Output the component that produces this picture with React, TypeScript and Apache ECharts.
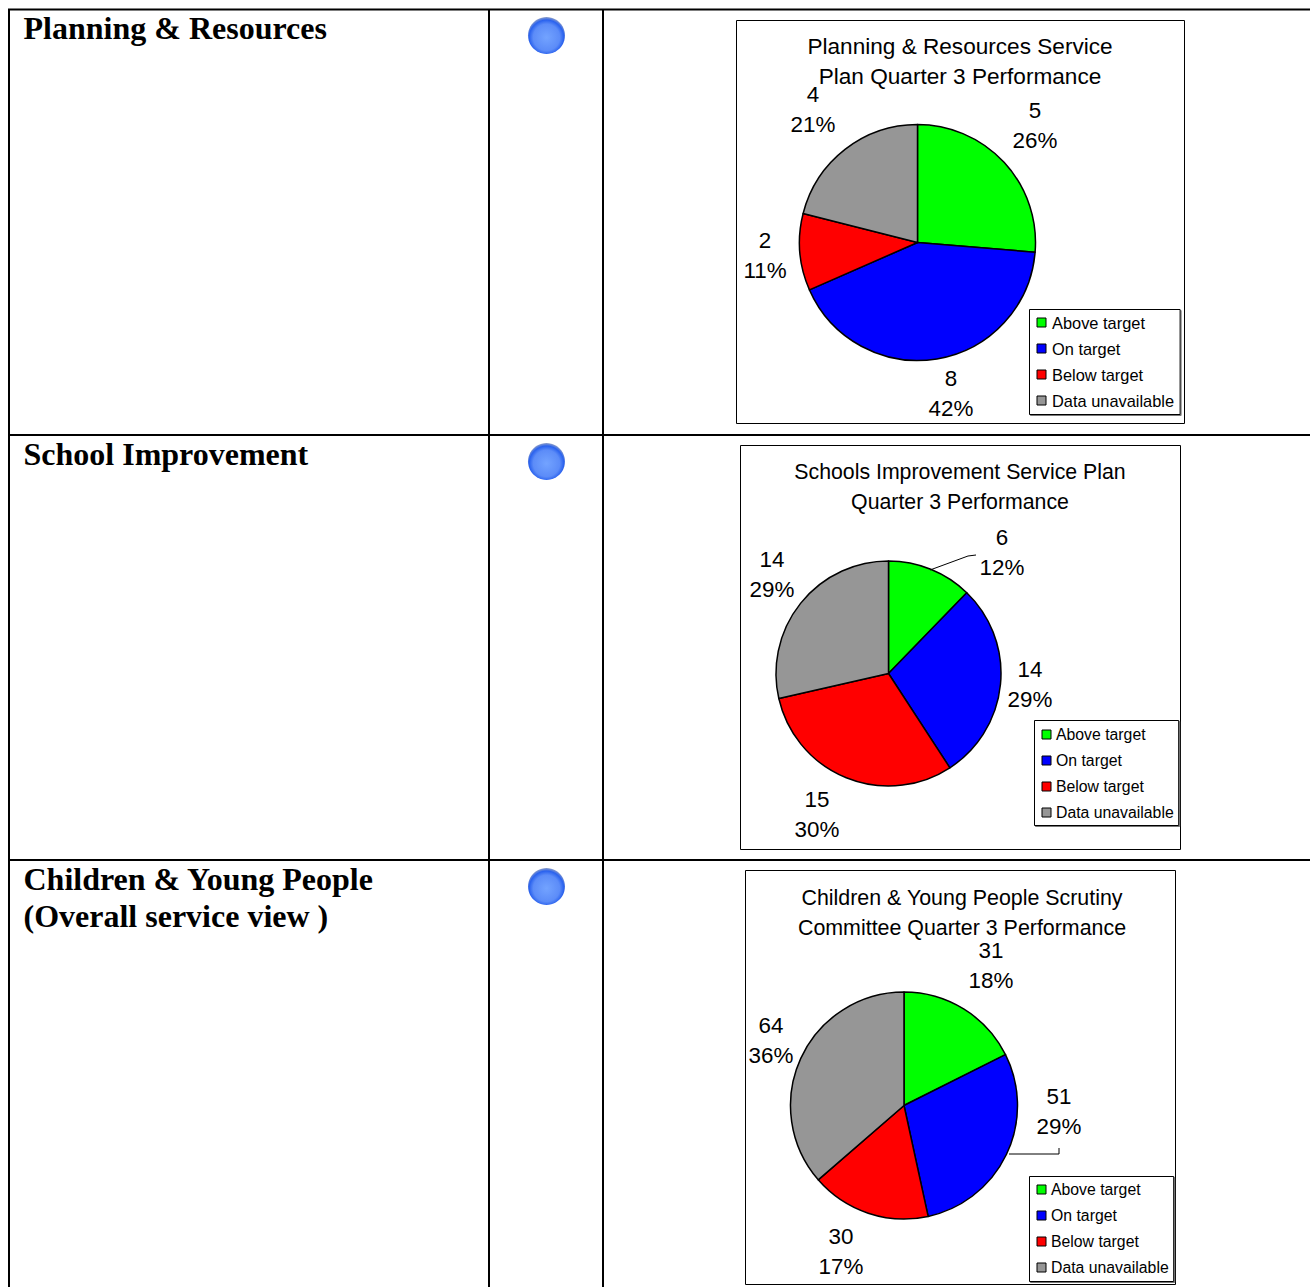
import React, { useEffect, useRef } from "react";
import * as echarts from "echarts";

const categories = ["Above target", "On target", "Below target", "Data unavailable"];
const sliceColors = ["#00ff00", "#0000ff", "#ff0000", "#969696"];

const planningValues = [5, 8, 2, 4];
const planningPercents = ["26%", "42%", "11%", "21%"];
const schoolValues = [6, 14, 15, 14];
const schoolPercents = ["12%", "29%", "30%", "29%"];
const childrenValues = [31, 51, 30, 64];
const childrenPercents = ["18%", "29%", "17%", "36%"];

const rowHeadings = [
  { text: "Planning & Resources", x: 23.5, y: 9 },
  { text: "School Improvement", x: 23.5, y: 435 },
  { text: "Children & Young People\n(Overall service view )", x: 23.5, y: 860 },
];

const panels = [
  {
    title: "Planning & Resources Service\nPlan Quarter 3 Performance",
    titleFont: 22.6,
    values: planningValues,
    percents: planningPercents,
    center: [917.5, 242.5],
    radius: 118,
    frame: [736.5, 20.5, 448, 403],
    titleX: 960,
    titleY: 31,
    legendAt: [1029.5, 309.5],
    legendTopPad: 4,
    legendFont: 16.4,
    legendTextPad: 1,
    legendRightPad: 6,
    labelAt: [[1035, 125], [951, 393], [765, 255], [813, 109]],
  },
  {
    title: "Schools Improvement Service Plan\nQuarter 3 Performance",
    titleFont: 21.3,
    values: schoolValues,
    percents: schoolPercents,
    center: [888.5, 673.5],
    radius: 112.5,
    frame: [740.5, 445.5, 440, 404],
    titleX: 960,
    titleY: 457,
    legendAt: [1034.5, 720.5],
    legendTopPad: 5,
    legendFont: 15.8,
    legendTextPad: 0,
    legendRightPad: 5,
    labelAt: [[1002, 552], [1030, 684], [817, 814], [772, 574]],
  },
  {
    title: "Children & Young People Scrutiny\nCommittee Quarter 3 Performance",
    titleFont: 21.4,
    values: childrenValues,
    percents: childrenPercents,
    center: [904, 1105.5],
    radius: 113.5,
    frame: [745.5, 870.5, 430, 414],
    titleX: 962,
    titleY: 883,
    legendAt: [1029.5, 1176.5],
    legendTopPad: 4,
    legendFont: 15.8,
    legendTextPad: 0,
    legendRightPad: 5,
    labelAt: [[991, 965], [1059, 1111], [841, 1251.5], [771, 1040]],
  },
];

const leaderLines = [
  [[930, 570], [968, 556], [976, 555]],
  [[1009, 1154], [1059, 1154], [1059, 1148]],
];

const bulletCentres = [[546.5, 35.5], [546.5, 461.5], [546.5, 886.5]];
const horizontalRules = [9.5, 435, 860];
const verticalRules = [9, 489, 603];

const SANS = "'Liberation Sans', Arial, sans-serif";
const SERIF = "'Liberation Serif', 'Times New Roman', serif";

function buildOption() {
  const graphic: any[] = [];

  horizontalRules.forEach((y) =>
    graphic.push({
      type: "line",
      shape: { x1: 8, y1: y, x2: 1310, y2: y },
      style: { stroke: "#000", lineWidth: 2 },
    })
  );
  verticalRules.forEach((x) =>
    graphic.push({
      type: "line",
      shape: { x1: x, y1: 9, x2: x, y2: 1287 },
      style: { stroke: "#000", lineWidth: 2 },
    })
  );

  rowHeadings.forEach((h) =>
    graphic.push({
      type: "text",
      x: h.x,
      y: h.y,
      style: {
        text: h.text,
        font: `bold 32px ${SERIF}`,
        lineHeight: 37,
        fill: "#000",
      },
    })
  );

  bulletCentres.forEach(([cx, cy]) => {
    graphic.push({
      type: "circle",
      shape: { cx, cy, r: 18.5 },
      style: {
        fill: new echarts.graphic.RadialGradient(0.5, 0.55, 0.55, [
          { offset: 0, color: "#73a3ff" },
          { offset: 0.65, color: "#5c8cf8" },
          { offset: 0.85, color: "#2a62ee" },
          { offset: 1, color: "#8f9fc8" },
        ]),
      },
    });
  });

  panels.forEach((p) => {
    const [x, y, width, height] = p.frame;
    graphic.push({
      type: "rect",
      z: -1,
      shape: { x, y, width, height },
      style: { fill: "#fff", stroke: "#000", lineWidth: 1 },
    });
  });

  leaderLines.forEach((points) =>
    graphic.push({
      type: "polyline",
      z: 10,
      shape: { points },
      style: { fill: "none", stroke: "#000", lineWidth: 1 },
    })
  );

  return {
    animation: false,
    backgroundColor: "#fff",
    graphic,
    title: panels.map((p) => ({
      text: p.title,
      left: p.titleX,
      top: p.titleY,
      textAlign: "center",
      padding: 0,
      textStyle: {
        fontFamily: SANS,
        fontSize: p.titleFont,
        fontWeight: "normal",
        lineHeight: 30,
        color: "#000",
      },
    })),
    legend: panels.map((p) => ({
      data: categories,
      orient: "vertical",
      left: p.legendAt[0],
      top: p.legendAt[1],
      padding: [p.legendTopPad, p.legendRightPad, 9 - p.legendTopPad, 7],
      itemGap: 8,
      itemWidth: 9,
      itemHeight: 9,
      icon: "rect",
      selectedMode: false,
      borderColor: "#000",
      borderWidth: 1,
      backgroundColor: "#fff",
      shadowColor: "#777",
      shadowOffsetX: 1,
      shadowOffsetY: 1,
      shadowBlur: 0,
      align: "left",
      itemStyle: { borderColor: "#000", borderWidth: 1 },
      textStyle: {
        fontFamily: SANS,
        fontSize: p.legendFont,
        color: "#000",
        padding: [0, 0, 0, p.legendTextPad],
        height: 18,
        lineHeight: 18,
      },
    })),
    series: panels.map((p) => ({
      type: "pie",
      center: p.center,
      radius: [0, p.radius],
      startAngle: 90,
      clockwise: true,
      silent: true,
      avoidLabelOverlap: false,
      data: categories.map((name, i) => ({
        name,
        value: p.values[i],
        itemStyle: { color: sliceColors[i] },
      })),
      itemStyle: { borderColor: "#000", borderWidth: 1.5 },
      label: {
        show: true,
        position: "outside",
        formatter: (params: any) =>
          `${p.values[params.dataIndex]}\n${p.percents[params.dataIndex]}`,
        fontFamily: SANS,
        fontSize: 22.4,
        lineHeight: 30,
        color: "#000",
        align: "center",
        verticalAlign: "middle",
      },
      labelLine: { show: false },
      labelLayout: (params: any) => ({
        x: p.labelAt[params.dataIndex][0],
        y: p.labelAt[params.dataIndex][1],
        align: "center",
        verticalAlign: "middle",
      }),
    })),
  };
}

export default function App() {
  const ref = useRef<HTMLDivElement>(null);
  useEffect(() => {
    document.body.style.margin = "0";
    const chart = echarts.init(ref.current!, null, { renderer: "svg" });
    chart.setOption(buildOption());
    return () => chart.dispose();
  }, []);
  return <div ref={ref} style={{ width: 1310, height: 1287 }} />;
}
